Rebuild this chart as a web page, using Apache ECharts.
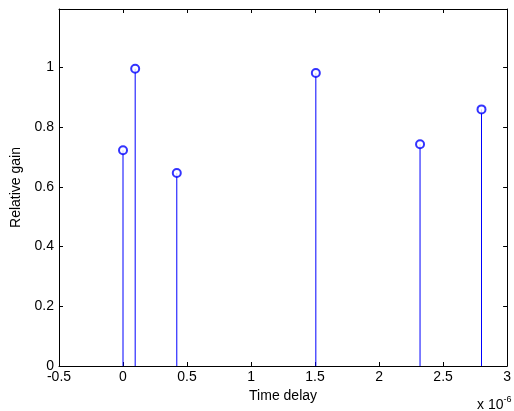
<!DOCTYPE html>
<html><head><meta charset="utf-8">
<script src="https://cdn.jsdelivr.net/npm/echarts@6/dist/echarts.min.js"></script>
<style>html,body{margin:0;padding:0;background:#fff}#c{width:514px;height:411px}</style>
</head><body><div id="c"></div>
<script>
// Time delay (units of 1e-6 s)
var delays = [0, 0.095, 0.42, 1.506, 2.32, 2.80];
// Relative gain
var gains = [0.722, 0.995, 0.646, 0.981, 0.742, 0.859];
var xTicks = [-0.5, 0, 0.5, 1, 1.5, 2, 2.5, 3];
var yTicks = [0, 0.2, 0.4, 0.6, 0.8, 1];

var pts = delays.map(function(d, i){ return [d, gains[i]]; });
var font = 'Liberation Sans, Arial, sans-serif';
var fs = 14;
var chart = echarts.init(document.getElementById('c'));
var tickCommon = {show: true, inside: true, length: 4, lineStyle: {color: '#000'}};
var lineCommon = {show: true, onZero: false, lineStyle: {color: '#000'}};
chart.setOption({
  animation: false,
  grid: {left: 59, right: 1, top: 9, bottom: 45},
  xAxis: [{
    type: 'value', min: -0.5, max: 3, interval: 0.5,
    name: 'Time delay', nameLocation: 'middle', nameGap: 22,
    nameTextStyle: {fontFamily: font, fontSize: fs, color: '#000'},
    axisLine: lineCommon,
    axisTick: tickCommon, splitLine: {show: false},
    axisLabel: {fontFamily: font, fontSize: fs, color: '#000', margin: 4, showMaxLabel: true, showMinLabel: true,
      formatter: function(v){ var r = Math.round(v*10)/10; return xTicks.indexOf(r) >= 0 ? String(r) : ''; }}
  }, {
    type: 'value', position: 'top', min: -0.5, max: 3, interval: 0.5,
    axisLine: lineCommon,
    axisTick: tickCommon, axisLabel: {show: false}, splitLine: {show: false}
  }],
  yAxis: [{
    type: 'value', min: 0, max: 1.195, interval: 0.2,
    name: 'Relative gain', nameLocation: 'middle', nameGap: 29,
    nameTextStyle: {fontFamily: font, fontSize: fs, color: '#000'},
    axisLine: lineCommon,
    axisTick: tickCommon, splitLine: {show: false},
    axisLabel: {fontFamily: font, fontSize: fs, color: '#000', margin: 5, showMaxLabel: false,
      formatter: function(v){ var r = Math.round(v*10)/10; return yTicks.indexOf(r) >= 0 ? String(r) : ''; }}
  }, {
    type: 'value', position: 'right', min: 0, max: 1.195, interval: 0.2,
    axisLine: lineCommon,
    axisTick: tickCommon, axisLabel: {show: false}, splitLine: {show: false}
  }],
  series: [{
    type: 'custom',
    data: pts,
    renderItem: function(params, api){
      var top = api.coord([api.value(0), api.value(1)]);
      var base = api.coord([api.value(0), 0]);
      return {type: 'line', shape: {x1: base[0], y1: base[1], x2: top[0], y2: top[1]},
        style: {stroke: '#0000ff', lineWidth: 1}};
    },
    z: 2
  }, {
    type: 'scatter',
    data: pts,
    symbol: 'emptyCircle', symbolSize: 8,
    itemStyle: {color: '#0000ff', borderColor: '#0000ff', borderWidth: 1.2},
    z: 3
  }],
  graphic: [{
    type: 'text', left: 477, top: 395,
    style: {
      text: '{a|x 10}{b|-6}',
      rich: {
        a: {fontFamily: font, fontSize: fs, fill: '#000', verticalAlign: 'bottom'},
        b: {fontFamily: font, fontSize: 9, fill: '#000', verticalAlign: 'top', padding: [0,0,8,0]}
      }
    }
  }]
});
</script></body></html>
